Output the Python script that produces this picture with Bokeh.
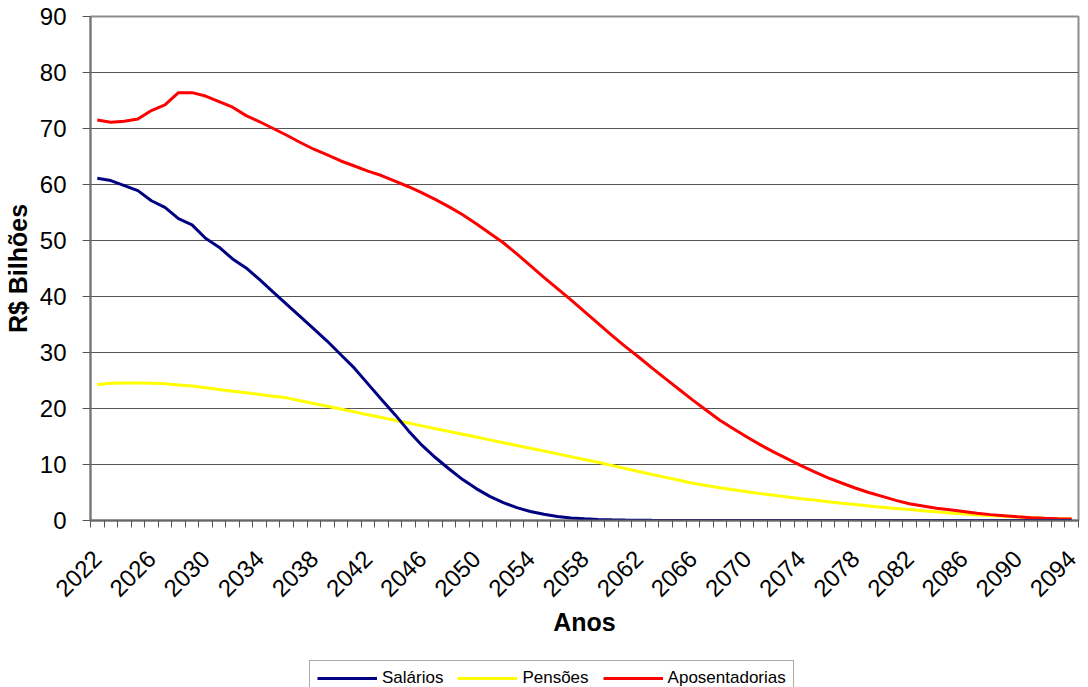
from bokeh.plotting import figure
from bokeh.layouts import column
from bokeh.models import FixedTicker, Legend, LegendItem, Range1d
from bokeh.embed import file_html
from bokeh.resources import INLINE

years = list(range(2022, 2095))

salarios = [61.1, 60.7, 59.8, 58.9, 57.1, 55.9, 53.9, 52.8, 50.4, 48.8,
            46.7, 45.1, 43.0, 40.8, 38.6, 36.4, 34.2, 32.0, 29.6, 27.2,
            24.4, 21.6, 18.9, 16.0, 13.4, 11.2, 9.2, 7.3, 5.7, 4.3,
            3.2, 2.3, 1.6, 1.1, 0.7, 0.45, 0.3, 0.2, 0.12, 0.08,
            0.05, 0.03, 0.02, 0.02, 0.01, 0.01, 0.01, 0.01, 0.01, 0.01,
            0.0, 0.0, 0.0, 0.0, 0.0, 0.0, 0.0, 0.0, 0.0, 0.0,
            0.0, 0.0, 0.0, 0.0, 0.0, 0.0, 0.0, 0.0, 0.0, 0.0,
            0.0, 0.0, 0.0]

pensoes = [24.3, 24.5, 24.55, 24.55, 24.5, 24.4, 24.2, 24.0, 23.7, 23.4,
           23.1, 22.8, 22.5, 22.2, 21.9, 21.4, 20.9, 20.4, 19.9, 19.4,
           18.9, 18.4, 17.9, 17.4, 16.9, 16.4, 15.9, 15.4, 14.9, 14.4,
           13.9, 13.4, 12.9, 12.4, 11.9, 11.4, 10.9, 10.4, 9.85, 9.3,
           8.75, 8.2, 7.7, 7.2, 6.65, 6.25, 5.85, 5.5, 5.15, 4.8,
           4.5, 4.2, 3.9, 3.65, 3.35, 3.1, 2.85, 2.6, 2.35, 2.15,
           1.95, 1.75, 1.55, 1.35, 1.2, 1.0, 0.88, 0.75, 0.62, 0.52,
           0.42, 0.34, 0.27]

aposentadorias = [71.5, 71.1, 71.3, 71.7, 73.2, 74.2, 76.4, 76.4, 75.8, 74.8,
                  73.8, 72.3, 71.2, 70.0, 68.8, 67.5, 66.3, 65.3, 64.2, 63.3,
                  62.4, 61.6, 60.6, 59.6, 58.5, 57.3, 56.0, 54.6, 53.0, 51.3,
                  49.6, 47.6, 45.5, 43.4, 41.4, 39.4, 37.3, 35.2, 33.1, 31.1,
                  29.2, 27.2, 25.3, 23.4, 21.5, 19.7, 17.9, 16.4, 14.9, 13.5,
                  12.2, 11.0, 9.8, 8.7, 7.6, 6.7, 5.8, 5.0, 4.3, 3.6,
                  3.0, 2.6, 2.2, 1.9, 1.6, 1.3, 1.05, 0.85, 0.65, 0.5,
                  0.4, 0.32, 0.25]

series_names = ["Salários", "Pensões", "Aposentadorias"]
series_colors = ["#000080", "#FFFF00", "#FF0000"]

label_years = list(range(2022, 2095, 4))
y_ticks = list(range(0, 91, 10))

FONT = "Liberation Sans"

p = figure(width=1080, height=651, output_backend="svg", toolbar_location=None,
           x_range=Range1d(2021.5, 2094.5), y_range=Range1d(0, 90),
           min_border_left=82, min_border_right=2, min_border_top=16,
           min_border_bottom=131)

p.outline_line_color = "#8c8c8c"
p.outline_line_width = 2
p.background_fill_color = "white"
p.border_fill_color = "white"

p.xgrid.grid_line_color = None
p.ygrid.ticker = FixedTicker(ticks=y_ticks)
p.ygrid.grid_line_color = "#555555"
p.ygrid.grid_line_width = 1

# x axis
p.xaxis.ticker = FixedTicker(ticks=label_years,
                             minor_ticks=[y - 0.5 for y in years] + [2094.5])
p.xaxis.major_tick_line_color = None
p.xaxis.major_tick_out = 0
p.xaxis.major_tick_in = 0
p.xaxis.minor_tick_line_color = "#555555"
p.xaxis.minor_tick_out = 7
p.xaxis.minor_tick_in = 0
p.xaxis.axis_line_color = "#666666"
p.xaxis.axis_line_width = 2
p.xaxis.major_label_orientation = 0.785398
p.xaxis.major_label_text_font = FONT
p.xaxis.major_label_text_font_size = "24px"
p.xaxis.major_label_text_color = "black"
p.xaxis.major_label_standoff = 27
p.xaxis.axis_label = "Anos"
p.xaxis.axis_label_text_font = FONT
p.xaxis.axis_label_text_font_size = "25px"
p.xaxis.axis_label_text_font_style = "bold"
p.xaxis.axis_label_text_color = "black"
p.xaxis.axis_label_standoff = 1

# y axis
p.yaxis.ticker = FixedTicker(ticks=y_ticks)
p.yaxis.major_tick_line_color = "#555555"
p.yaxis.major_tick_out = 8
p.yaxis.major_tick_in = 0
p.yaxis.minor_tick_line_color = None
p.yaxis.axis_line_color = "#777777"
p.yaxis.axis_line_width = 2
p.yaxis.major_label_text_font = FONT
p.yaxis.major_label_text_font_size = "24px"
p.yaxis.major_label_text_color = "black"
p.yaxis.major_label_standoff = 16
p.yaxis.axis_label = "R$ Bilhões"
p.yaxis.axis_label_text_font = FONT
p.yaxis.axis_label_text_font_size = "25px"
p.yaxis.axis_label_text_font_style = "bold"
p.yaxis.axis_label_text_color = "black"
p.yaxis.axis_label_standoff = 5

p.line(years, pensoes, line_color=series_colors[1], line_width=3)
p.line(years, aposentadorias, line_color=series_colors[2], line_width=3)
p.line(years, salarios, line_color=series_colors[0], line_width=3)

# separate strip holding the legend (below the chart); its ranges keep the
# series out of view so only the legend shows
lf = figure(width=1080, height=40, output_backend="svg", toolbar_location=None,
            x_range=Range1d(0, 1), y_range=Range1d(0, 1),
            x_axis_location=None, y_axis_location=None,
            min_border_left=0, min_border_right=0, min_border_top=0,
            min_border_bottom=0)
lf.outline_line_color = None
lf.xgrid.grid_line_color = None
lf.ygrid.grid_line_color = None
lf.border_fill_color = "white"
lf.background_fill_color = "white"

items = []
for name, col, data in zip(series_names, series_colors,
                           [salarios, pensoes, aposentadorias]):
    r = lf.line(years, data, line_color=col, line_width=3)
    items.append(LegendItem(label=name, renderers=[r]))

legend = Legend(items=items, orientation="horizontal", location=(219, -5))
legend.label_text_font = FONT
legend.label_text_font_size = "17px"
legend.label_text_color = "black"
legend.glyph_width = 60
legend.glyph_height = 20
legend.label_standoff = 5
legend.spacing = 14
legend.padding = 7
legend.margin = 0
legend.border_line_color = "#555555"
legend.border_line_width = 1
legend.background_fill_color = "white"
legend.background_fill_alpha = 1
lf.add_layout(legend, "center")

layout = column(p, lf, spacing=0)
open("out.html", "w").write(file_html(layout, INLINE))
